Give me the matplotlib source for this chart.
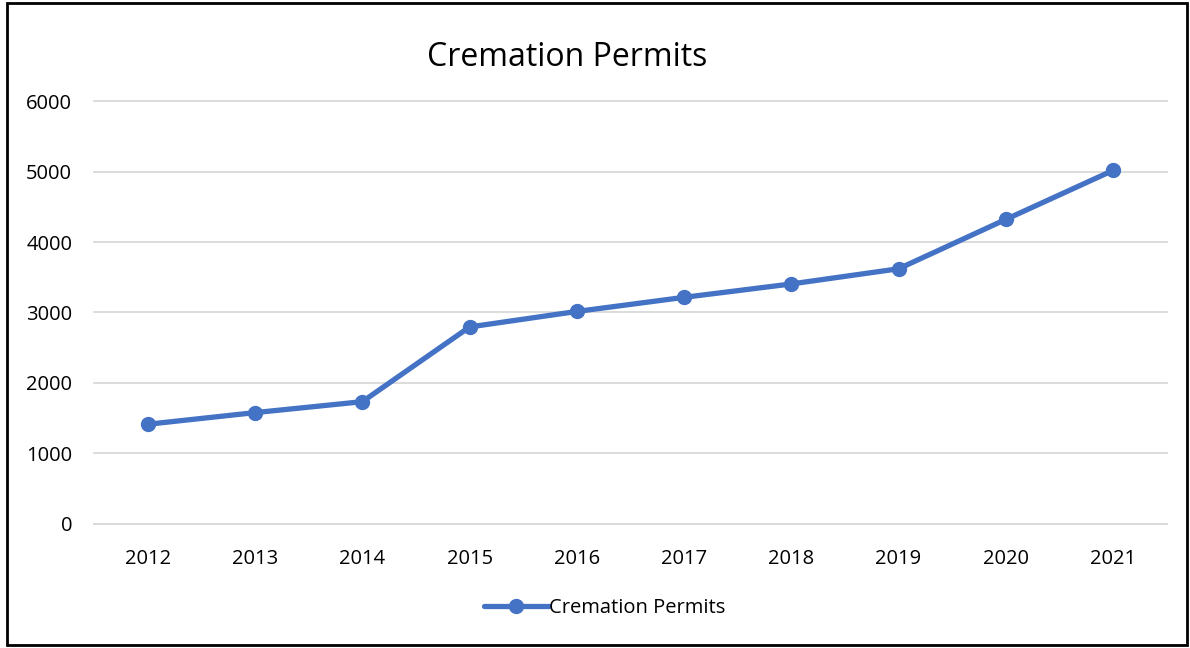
import matplotlib.pyplot as plt
from matplotlib.patches import Rectangle

years = ["2012", "2013", "2014", "2015", "2016", "2017", "2018", "2019", "2020", "2021"]
permits = [1415, 1580, 1735, 2795, 3015, 3215, 3405, 3620, 4320, 5015]
y_ticks = [0, 1000, 2000, 3000, 4000, 5000, 6000]

blue = "#4472C4"
grid = "#D9D9D9"
plt.rcParams["font.family"] = ["Open Sans", "DejaVu Sans"]

fig = plt.figure(figsize=(11.9, 6.48), dpi=100)
ax = fig.add_axes([0.0793, 0.1914, 0.901, 0.6527])

x = range(len(years))
ax.plot(x, permits, color=blue, lw=3.8, marker="o", markersize=10,
        solid_capstyle="round", label="Cremation Permits")

ax.set_xlim(-0.5, len(years) - 0.5)
ax.set_ylim(0, 6000)
ax.set_yticks(y_ticks)
ax.set_xticks(list(x))
ax.set_xticklabels(years)
ax.tick_params(axis="both", length=0, labelsize=14.5, colors="#000000")
ax.tick_params(axis="y", pad=16)
ax.tick_params(axis="x", pad=18)
ax.grid(axis="y", color=grid, lw=1.3)
for gl in ax.get_ygridlines():
    gl.set_clip_on(False)
ax.set_axisbelow(True)
for s in ["top", "right", "left"]:
    ax.spines[s].set_visible(False)
ax.spines["bottom"].set_color(grid)
ax.spines["bottom"].set_linewidth(1.3)

fig.text(0.477, 0.912, "Cremation Permits", ha="center", va="center", fontsize=23)

fig.legend(loc="center", bbox_to_anchor=(0.508, 0.062), frameon=False,
           fontsize=14.5, handlelength=3.2, handletextpad=0.0)

fig.patches.append(Rectangle((0.0055, 0.004), 0.992, 0.992, transform=fig.transFigure,
                             fill=False, edgecolor="black", lw=2))

fig.savefig("out.png", dpi=100)
